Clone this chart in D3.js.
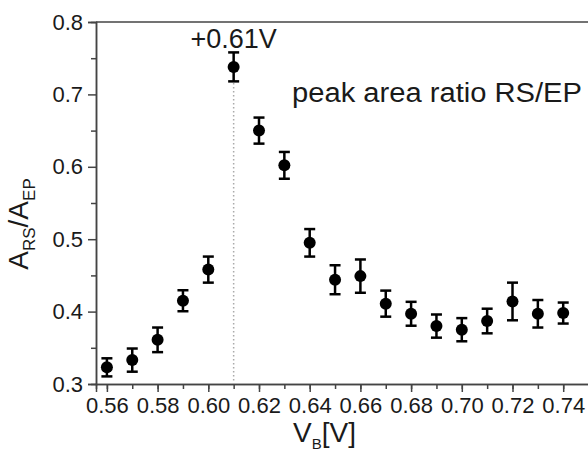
<!DOCTYPE html>
<html>
<head>
<meta charset="utf-8">
<script src="https://cdn.jsdelivr.net/npm/d3@7"></script>
<style>
  body { margin: 0; background: #fff; }
  svg text { font-family: "Liberation Sans", Arial, sans-serif; fill: #1a1a1a; }
</style>
</head>
<body>
<div id="chart"></div>
<script>
// bias voltage (V), peak area ratio RS/EP and its error
var voltages = [0.56, 0.57, 0.58, 0.59, 0.60, 0.61, 0.62, 0.63, 0.64, 0.65,
                0.66, 0.67, 0.68, 0.69, 0.70, 0.71, 0.72, 0.73, 0.74];
var ratios = [0.323, 0.333, 0.361, 0.415, 0.458, 0.738, 0.650, 0.602, 0.495, 0.444,
              0.449, 0.411, 0.397, 0.380, 0.375, 0.387, 0.414, 0.397, 0.398];
var errors = [0.0125, 0.016, 0.017, 0.0145, 0.018, 0.02, 0.018, 0.0185, 0.019, 0.02,
              0.023, 0.018, 0.0165, 0.016, 0.016, 0.017, 0.026, 0.019, 0.0145];
var xTicks = [0.56, 0.58, 0.60, 0.62, 0.64, 0.66, 0.68, 0.70, 0.72, 0.74];
var yTicks = [0.3, 0.4, 0.5, 0.6, 0.7, 0.8];
var peakV = 0.61;

var width = 588, height = 456;

var svg = d3.select("#chart").append("svg")
    .attr("width", width)
    .attr("height", height);

var x = d3.scaleLinear().domain([0.5557, 0.7557]).range([96, 603]);
var y = d3.scaleLinear().domain([0.3, 0.8]).range([384, 22]);

var axisColor = "#444";

// frame top line
svg.append("line")
  .attr("x1", 96).attr("x2", 603)
  .attr("y1", 22).attr("y2", 22)
  .attr("stroke", axisColor).attr("stroke-width", 1.5);

// minor ticks
var xMinor = d3.range(0.56, 0.755, 0.01);
var gxm = svg.append("g").attr("transform", "translate(0,384)")
  .call(d3.axisBottom(x).tickValues(xMinor).tickSize(5).tickFormat(""));
var yMinor = d3.range(0.35, 0.8, 0.1);
var gym = svg.append("g").attr("transform", "translate(96,0)")
  .call(d3.axisLeft(y).tickValues(yMinor).tickSize(5).tickFormat(""));

var gx = svg.append("g").attr("transform", "translate(0,384)")
  .call(d3.axisBottom(x).tickValues(xTicks).tickSize(8).tickPadding(5)
    .tickFormat(d3.format(".2f")));
var gy = svg.append("g").attr("transform", "translate(96,0)")
  .call(d3.axisLeft(y).tickValues(yTicks).tickSize(8).tickPadding(5)
    .tickFormat(d3.format(".1f")));

[gx, gy, gxm, gym].forEach(function(g) {
  g.selectAll("path").attr("stroke", axisColor).attr("stroke-width", 1.5);
  g.selectAll("line").attr("stroke", axisColor).attr("stroke-width", 1.5);
  g.selectAll("text").style("font-size", "22px").attr("fill", "#1a1a1a");
});

// dotted line at peak voltage
var peakIdx = voltages.indexOf(peakV);
svg.append("line")
  .attr("x1", x(peakV)).attr("x2", x(peakV))
  .attr("y1", y(ratios[peakIdx])).attr("y2", y(0.3))
  .attr("stroke", "#aaa").attr("stroke-width", 1.5)
  .attr("stroke-dasharray", "1.5,2.5");

var pts = voltages.map(function(v, i) { return { v: v, r: ratios[i], e: errors[i] }; });

var pt = svg.selectAll(".pt")
  .data(pts)
  .enter().append("g")
  .attr("class", "pt");

pt.append("line")
  .attr("x1", function(d) { return x(d.v); })
  .attr("x2", function(d) { return x(d.v); })
  .attr("y1", function(d) { return y(d.r + d.e); })
  .attr("y2", function(d) { return y(d.r - d.e); })
  .attr("stroke", "#000").attr("stroke-width", 2.5);

[1, -1].forEach(function(s) {
  pt.append("line")
    .attr("x1", function(d) { return x(d.v) - 5.5; })
    .attr("x2", function(d) { return x(d.v) + 5.5; })
    .attr("y1", function(d) { return y(d.r + s * d.e); })
    .attr("y2", function(d) { return y(d.r + s * d.e); })
    .attr("stroke", "#000").attr("stroke-width", 2.5);
});

pt.append("circle")
  .attr("cx", function(d) { return x(d.v); })
  .attr("cy", function(d) { return y(d.r); })
  .attr("r", 6)
  .attr("fill", "#000");

// annotations
svg.append("text")
  .attr("x", x(peakV)).attr("y", 48)
  .attr("text-anchor", "middle")
  .style("font-size", "27px")
  .text("+0.61V");

svg.append("text")
  .attr("x", 292).attr("y", 102)
  .style("font-size", "27px")
  .attr("textLength", 290)
  .attr("lengthAdjust", "spacingAndGlyphs")
  .text("peak area ratio RS/EP");

// axis titles
var xl = svg.append("text")
  .attr("x", 293).attr("y", 442)
  .style("font-size", "28px");
xl.append("tspan").text("V");
xl.append("tspan").attr("dy", 7).style("font-size", "15px").text("B");
xl.append("tspan").attr("dy", -7).text("[V]");

var yl = svg.append("text")
  .attr("transform", "translate(28,224) rotate(-90)")
  .attr("text-anchor", "middle")
  .style("font-size", "28px");
yl.append("tspan").text("A");
yl.append("tspan").attr("dy", 7).style("font-size", "17px").text("RS");
yl.append("tspan").attr("dy", -7).text("/A");
yl.append("tspan").attr("dy", 7).style("font-size", "17px").text("EP");
</script>
</body>
</html>
